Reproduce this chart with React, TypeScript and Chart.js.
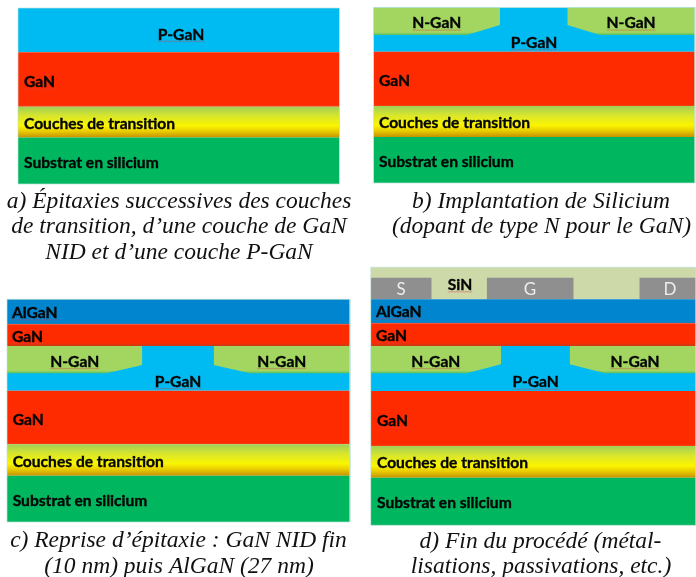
import React, { useEffect, useRef } from "react";
import { Chart, registerables } from "chart.js";

Chart.register(...registerables);

// Layer tables: [x from, x to, depth top, depth bottom, material]
type Band = [number, number, number, number, string];

const panelA: Band[] = [
  [18, 339.5, 8, 52.3, "pgan"],
  [18, 339.5, 52.3, 106.7, "gan"],
  [18, 339.5, 106.7, 137.5, "transition"],
  [18, 339.5, 137.5, 184, "substrate"],
];
const panelB: Band[] = [
  [373.5, 695, 7.5, 51.7, "pgan"],
  [373.5, 695, 51.7, 106, "gan"],
  [373.5, 695, 106, 137, "transition"],
  [373.5, 695, 137, 183, "substrate"],
];
const panelC: Band[] = [
  [7, 350, 299.3, 324.3, "algan"],
  [7, 350, 324.3, 346, "ganThin"],
  [7, 350, 346, 390.7, "pgan"],
  [7, 350, 390.7, 444.3, "gan"],
  [7, 350, 444.3, 475.7, "transition"],
  [7, 350, 475.7, 522, "substrate"],
];
const panelD: Band[] = [
  [370.7, 696, 267.3, 299.3, "sin"],
  [370.7, 431.7, 277.7, 299.3, "metal"],
  [486.7, 573.7, 277.7, 299.3, "metal"],
  [639.3, 696, 277.7, 299.3, "metal"],
  [370.7, 696, 299.3, 323.3, "algan"],
  [370.7, 696, 323.3, 346, "ganThin"],
  [370.7, 696, 346, 391, "pgan"],
  [370.7, 696, 391, 446, "gan"],
  [370.7, 696, 446, 477.7, "transition"],
  [370.7, 696, 477.7, 525.3, "substrate"],
];

// N-GaN implants: [x, depth] of the lower edge, then the surface depth they rise to
type Implant = { edge: [number, number][]; surface: number };
const implants: Implant[] = [
  { edge: [[373.5, 35], [466.7, 35], [500, 25]], surface: 7.5 },
  { edge: [[567.3, 25], [600, 35], [695, 35]], surface: 7.5 },
  { edge: [[7, 373.3], [106.7, 373.3], [142.3, 365]], surface: 346 },
  { edge: [[213.7, 365], [250, 373.3], [350, 373.3]], surface: 346 },
  { edge: [[370.7, 373.3], [466.7, 373.3], [501, 364.3]], surface: 346 },
  { edge: [[569.7, 364.3], [605, 373.3], [696, 373.3]], surface: 346 },
];

const outlines: [number, number, number, number][] = [
  [18, 339.5, 8, 184],
  [373.5, 695, 7.5, 183],
  [7, 350, 299.3, 522],
  [370.7, 696, 267.3, 525.3],
];

// Labels: [text, x, y, align, kind]
type Label = [string, number, number, "left" | "center", "bold" | "squiggle" | "white"];
const layerLabels: Label[] = [
  ["P-GaN", 181, 34.5, "center", "squiggle"],
  ["GaN", 24, 82, "left", "squiggle"],
  ["Couches de transition", 24, 124, "left", "bold"],
  ["Substrat en silicium", 24, 163, "left", "bold"],
  ["N-GaN", 436.7, 23.3, "center", "squiggle"],
  ["N-GaN", 631, 23.3, "center", "squiggle"],
  ["P-GaN", 534, 43, "center", "squiggle"],
  ["GaN", 379, 81, "left", "squiggle"],
  ["Couches de transition", 379, 123, "left", "bold"],
  ["Substrat en silicium", 379, 162, "left", "bold"],
  ["AlGaN", 12, 313, "left", "squiggle"],
  ["GaN", 12, 336.5, "left", "squiggle"],
  ["N-GaN", 74.7, 361.7, "center", "squiggle"],
  ["N-GaN", 281.7, 361.7, "center", "squiggle"],
  ["P-GaN", 178, 381.7, "center", "squiggle"],
  ["GaN", 12.7, 420, "left", "squiggle"],
  ["Couches de transition", 12.7, 461.7, "left", "bold"],
  ["Substrat en silicium", 12.7, 500.7, "left", "bold"],
  ["S", 401, 290, "center", "white"],
  ["SiN", 460, 285, "center", "squiggle"],
  ["G", 530, 290, "center", "white"],
  ["D", 670, 290, "center", "white"],
  ["AlGaN", 376, 312, "left", "squiggle"],
  ["GaN", 376, 336, "left", "squiggle"],
  ["N-GaN", 435.7, 361.7, "center", "squiggle"],
  ["N-GaN", 635, 361.7, "center", "squiggle"],
  ["P-GaN", 535.7, 382.3, "center", "squiggle"],
  ["GaN", 377, 420.7, "left", "squiggle"],
  ["Couches de transition", 377, 463, "left", "bold"],
  ["Substrat en silicium", 377, 503, "left", "bold"],
];

const captions: [string, number, number][] = [
  ["a) Épitaxies successives des couches", 179, 201.5],
  ["de transition, d’une couche de GaN", 179, 227],
  ["NID et d’une couche P-GaN", 179, 253],
  ["b) Implantation de Silicium", 541, 201.5],
  ["(dopant de type N pour le GaN)", 541.5, 227],
  ["c) Reprise d’épitaxie : GaN NID fin", 178.5, 540.5],
  ["(10 nm) puis AlGaN (27 nm)", 179, 566.5],
  ["d) Fin du procédé (métal-", 540.5, 541.5],
  ["lisations, passivations, etc.)", 541, 566.5],
];

const materials: Record<string, [number, string][]> = {
  pgan: [[0, "#00BBF2"], [1, "#00BBF2"]],
  gan: [[0, "#FF2B00"], [0.97, "#FF2B00"], [1, "#F04A20"]],
  ganThin: [[0, "#FF2B00"], [0.85, "#FF2B00"], [1, "#C93A18"]],
  transition: [[0, "#A0CF58"], [0.3, "#D8E62C"], [0.62, "#FBF500"], [0.8, "#E8CC00"], [1, "#C49200"]],
  substrate: [[0, "#00B65E"], [1, "#00B65E"]],
  algan: [[0, "#0085CE"], [0.92, "#0085CE"], [1, "#2C78B0"]],
  sin: [[0, "#CDD9A8"], [1, "#CDD9A8"]],
  metal: [[0, "#8F8F8F"], [1, "#8F8F8F"]],
  implant: [[0, "#A2D660"], [0.9, "#A2D660"], [1, "#55BE60"]],
};

function shade(name: string, top: number, bottom: number) {
  return (c: any) => {
    const yScale = c.chart.scales.y;
    const y0 = yScale ? yScale.getPixelForValue(top) : NaN;
    const y1 = yScale ? yScale.getPixelForValue(bottom) : NaN;
    if (!Number.isFinite(y0) || !Number.isFinite(y1)) return materials[name][0][1];
    const g = c.chart.ctx.createLinearGradient(0, y0, 0, y1);
    materials[name].forEach(([o, col]) => g.addColorStop(o, col));
    return g;
  };
}

const base = { pointRadius: 0, pointHoverRadius: 0, borderWidth: 0, tension: 0 };

function buildDatasets() {
  // listed in paint order; reversed below because Chart.js paints the first dataset last
  const out: any[] = [];
  [...panelA, ...panelB, ...panelC, ...panelD].forEach(([x0, x1, top, bottom, m]) => {
    out.push({
      ...base,
      data: [{ x: x0, y: top }, { x: x1, y: top }],
      fill: { value: bottom },
      backgroundColor: shade(m, top, bottom),
    });
  });
  implants.forEach(({ edge, surface }) => {
    const low = Math.max(...edge.map((p) => p[1]));
    out.push({
      ...base,
      data: edge.map(([x, y]) => ({ x, y })),
      fill: { value: surface },
      backgroundColor: shade("implant", surface, low),
    });
  });
  outlines.forEach(([x0, x1, top, bottom]) => {
    out.push({
      ...base,
      data: [
        { x: x0, y: top }, { x: x1, y: top }, { x: x1, y: bottom }, { x: x0, y: bottom }, { x: x0, y: top },
      ],
      fill: false,
      borderWidth: 1,
      borderColor: "rgba(190,225,215,0.7)",
      backgroundColor: "transparent",
    });
  });
  return out.reverse();
}

const textPlugin = {
  id: "crossSectionText",
  afterDatasetsDraw(chart: any) {
    const { ctx, scales } = chart;
    const { x, y } = scales;
    ctx.save();
    ctx.textBaseline = "middle";
    layerLabels.forEach(([text, lx, ly, align, kind]) => {
      const px = x.getPixelForValue(lx);
      const py = y.getPixelForValue(ly);
      ctx.textAlign = align;
      ctx.font = kind === "white" ? "400 17px Lato" : "700 15.6px Lato";
      ctx.fillStyle = kind === "white" ? "#EDEDED" : "#050505";
      ctx.fillText(text, px, py);
      if (kind !== "white") {
        ctx.lineWidth = 0.35;
        ctx.strokeStyle = "#050505";
        ctx.strokeText(text, px, py);
      }
      if (kind === "squiggle") {
        const w = ctx.measureText(text).width;
        const start = align === "center" ? px - w / 2 : px;
        ctx.beginPath();
        for (let i = 0; i <= Math.ceil(w / 1.5); i++) {
          const sx = start + Math.min(i * 1.5, w);
          const sy = py + 6.5 + (i % 2 ? 0.7 : 0);
          if (i === 0) ctx.moveTo(sx, sy);
          else ctx.lineTo(sx, sy);
        }
        ctx.lineWidth = 0.6;
        ctx.strokeStyle = "rgba(215,60,70,0.75)";
        ctx.stroke();
      }
    });
    ctx.font = "italic 400 23.5px 'Liberation Serif'";
    ctx.fillStyle = "#111111";
    ctx.textAlign = "center";
    captions.forEach(([text, cx, cy]) => {
      ctx.fillText(text, x.getPixelForValue(cx), y.getPixelForValue(cy));
    });
    ctx.restore();
  },
};

export default function App() {
  const ref = useRef<HTMLCanvasElement | null>(null);
  useEffect(() => {
    if (!ref.current) return;
    const chart = new Chart(ref.current, {
      type: "line",
      data: { datasets: buildDatasets() },
      plugins: [textPlugin],
      options: {
        animation: false,
        responsive: false,
        devicePixelRatio: 1,
        layout: { padding: 0 },
        events: [],
        plugins: { legend: { display: false }, tooltip: { enabled: false }, title: { display: false } },
        scales: {
          x: { type: "linear", min: 0, max: 696, display: false },
          y: { type: "linear", min: 0, max: 577, reverse: true, display: false },
        },
      },
    } as any);
    return () => chart.destroy();
  }, []);
  return (
    <canvas
      ref={ref}
      width={696}
      height={577}
      style={{ position: "absolute", left: 0, top: 0, width: 696, height: 577, display: "block", filter: "blur(0.45px)" }}
    />
  );
}
